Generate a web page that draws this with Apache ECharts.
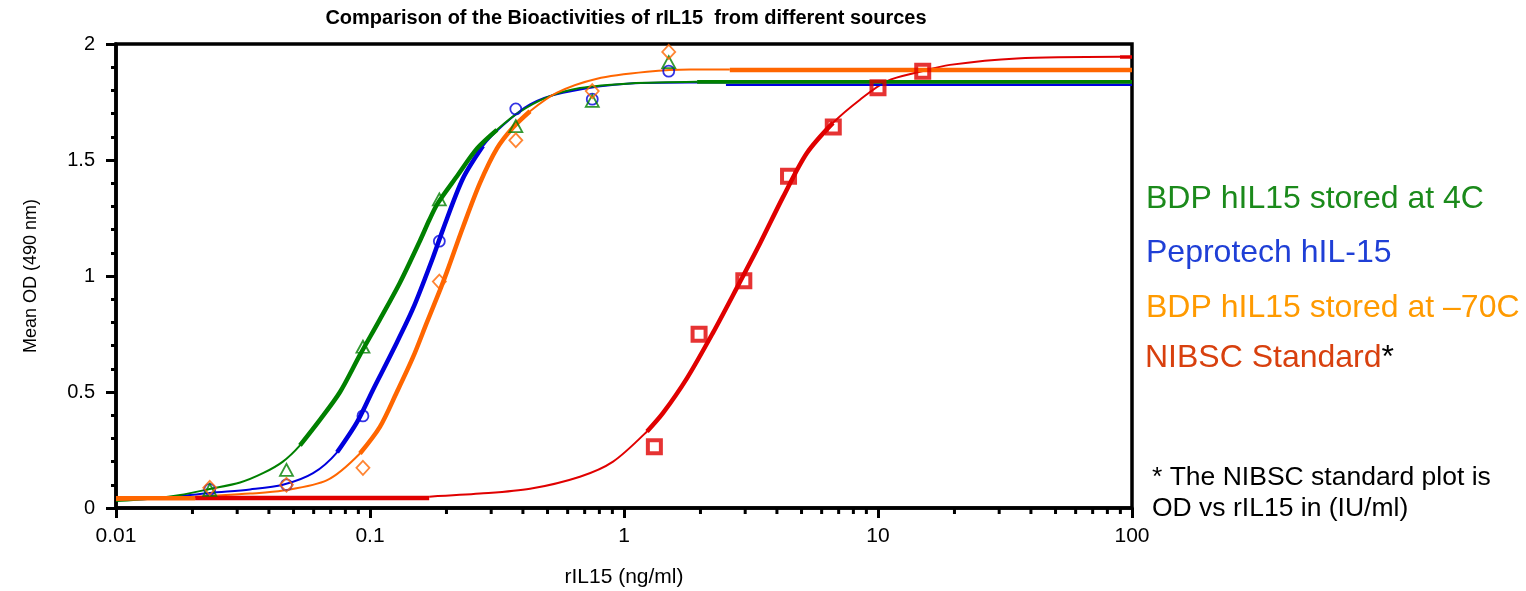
<!DOCTYPE html>
<html>
<head>
<meta charset="utf-8">
<script src="https://cdn.jsdelivr.net/npm/echarts@6/dist/echarts.min.js"></script>
<style>
html,body{margin:0;padding:0;background:#fff;}
#chart{width:1526px;height:591px;}
</style>
</head>
<body>
<div id="chart"></div>
<script>
// ---------- data ----------
const doses = [0.0234, 0.0469, 0.0938, 0.1875, 0.375, 0.75, 1.5];
const bdp4C = [0.078, 0.164, 0.695, 1.33, 1.646, 1.755, 1.922];
const peprotech = [0.08, 0.10, 0.397, 1.15, 1.72, 1.762, 1.883];
const bdp70C = [0.087, 0.10, 0.173, 0.976, 1.585, 1.797, 1.966];
const nibscDoses = [1.317, 1.975, 2.963, 4.444, 6.667, 10, 15];
const nibsc = [0.264, 0.749, 0.979, 1.43, 1.642, 1.811, 1.883];

// fitted curves [conc, OD]
const bdp4CCurve = [[0.01,0.03],[0.0136,0.04],[0.0179,0.056],[0.0234,0.082],[0.0308,0.11],[0.0379,0.15],[0.0454,0.20],[0.053,0.27],[0.0635,0.38],[0.0762,0.50],[0.0913,0.66],[0.109,0.81],[0.131,0.97],[0.157,1.15],[0.171,1.24],[0.184,1.31],[0.22,1.43],[0.264,1.55],[0.316,1.63],[0.379,1.70],[0.497,1.77],[0.671,1.81],[1.056,1.83],[1.94,1.837]];
const peprotechCurve = [[0.01,0.035],[0.0149,0.042],[0.0234,0.065],[0.0337,0.08],[0.0454,0.10],[0.0597,0.15],[0.0742,0.24],[0.0889,0.37],[0.1028,0.51],[0.1232,0.68],[0.1477,0.86],[0.177,1.08],[0.1937,1.20],[0.2322,1.42],[0.2784,1.56],[0.3338,1.65],[0.4266,1.74],[0.575,1.79],[1.056,1.83],[1.82,1.834],[2.52,1.834]];
const bdp70CCurve = [[0.01,0.035],[0.0179,0.045],[0.0234,0.052],[0.0337,0.062],[0.0454,0.075],[0.0678,0.12],[0.0913,0.235],[0.1094,0.35],[0.1276,0.50],[0.1477,0.65],[0.1675,0.80],[0.1887,0.94],[0.2011,1.02],[0.2322,1.21],[0.2708,1.40],[0.3162,1.55],[0.3656,1.64],[0.4266,1.71],[0.5447,1.79],[0.783,1.85],[1.232,1.88],[1.82,1.89],[2.61,1.89]];
const nibscCurve = [[0.171,0.049],[0.271,0.062],[0.4266,0.083],[0.6707,0.135],[0.9057,0.20],[1.232,0.33],[1.425,0.41],[1.771,0.56],[2.239,0.755],[2.785,0.95],[3.43,1.14],[4.226,1.34],[5.25,1.53],[6.646,1.66],[8.494,1.76],[10.85,1.84],[14.62,1.88],[19.19,1.91],[35.2,1.938],[89.7,1.945]];

// plateau / baseline bars drawn in the reference
const bdp4CTop = [[1.94,1.837],[100,1.837]];
const peprotechTop = [[2.52,1.824],[100,1.824]];
const bdp70CTop = [[2.61,1.888],[100,1.888]];
const bdp70CBase = [[0.01,0.042],[0.0205,0.042]];
const nibscBase = [[0.0205,0.043],[0.171,0.043]];
const nibscTop = [[89.7,1.944],[100,1.944]];

const xMinorTicks = [0.02,0.03,0.04,0.05,0.06,0.07,0.08,0.09,0.2,0.3,0.4,0.5,0.6,0.7,0.8,0.9,2,3,4,5,6,7,8,9,20,30,40,50,60,70,80,90];

const titleText = 'Comparison of the Bioactivities of rIL15  from different sources';
const xName = 'rIL15 (ng/ml)';
const yName = 'Mean OD (490 nm)';
const legendTexts = ['BDP hIL15 stored at 4C','Peprotech hIL-15','BDP hIL15 stored at \u201370C','NIBSC Standard'];
const footnote = ['* The NIBSC standard plot is','OD vs rIL15 in (IU/ml)'];

// ---------- styles ----------
const C = {green:'#008000', blue:'#0000dd', orange:'#ff6600', red:'#e00000'};
const FONT = "'Liberation Sans', Arial, sans-serif";
const pair = (xs, ys) => xs.map((x,i)=>[x, ys[i]]);
const within = (arr, a, b) => arr.filter(p => p[0] >= a && p[0] <= b);

function curve(data, color, w, z){
  return {type:'line', data, smooth:0.3, showSymbol:false, silent:true, z,
    lineStyle:{color, width:w}, itemStyle:{color}};
}
function bar(data, color, w, z){
  return {type:'line', data, showSymbol:false, silent:true, z, lineStyle:{color, width:w, cap:'butt'}};
}
function pts(data, symbol, size, color, bw, z){
  return {type:'scatter', data, symbol, symbolSize:size, silent:true, z,
    itemStyle:{color:'rgba(255,255,255,0)', borderColor:color, borderWidth:bw}};
}

const chart = echarts.init(document.getElementById('chart'), null, {renderer:'canvas'});
chart.setOption({
  animation:false,
  backgroundColor:'#fff',
  grid:{left:116, top:44, width:1016, height:464, show:true, borderColor:'#000', borderWidth:3.5, backgroundColor:'transparent', containLabel:false},
  xAxis:{type:'log', logBase:10, min:0.01, max:100,
    axisLine:{show:true, lineStyle:{color:'#000', width:3.5}},
    axisTick:{show:true, length:10, lineStyle:{color:'#000', width:3}},
    minorTick:{show:false}, splitLine:{show:false},
    axisLabel:{color:'#000', fontSize:21, fontFamily:FONT, margin:18}},
  yAxis:{type:'value', min:0, max:2, interval:0.5,
    axisLine:{show:true, lineStyle:{color:'#000', width:3.5}},
    axisTick:{show:true, length:10, lineStyle:{color:'#000', width:3}},
    minorTick:{show:true, splitNumber:5, length:5, lineStyle:{color:'#000', width:3}},
    splitLine:{show:false},
    axisLabel:{color:'#000', fontSize:20, fontFamily:FONT, margin:21}},
  series:[
    curve(peprotechCurve, C.blue, 2, 2),
    curve(within(peprotechCurve, 0.074, 0.32), C.blue, 4.5, 2),
    curve(bdp4CCurve, C.green, 2, 3),
    curve(within(bdp4CCurve, 0.053, 0.32), C.green, 4.5, 3),
    curve(bdp70CCurve, C.orange, 2, 4),
    curve(within(bdp70CCurve, 0.09, 0.43), C.orange, 4.5, 4),
    curve(nibscCurve, C.red, 2, 5),
    curve(within(nibscCurve, 1.2, 6.7), C.red, 4.5, 5),
    bar(peprotechTop, C.blue, 2.5, 6),
    bar(bdp4CTop, C.green, 3.8, 6),
    bar(bdp70CTop, C.orange, 4.7, 6),
    bar(bdp70CBase, C.orange, 4.7, 6),
    bar(nibscBase, C.red, 4.7, 6),
    bar(nibscTop, C.red, 3.5, 6),
    pts(pair(doses, peprotech), 'circle', 11, C.blue, 1.8, 7),
    pts(pair(doses, bdp4C), 'triangle', [13,12], C.green, 1.8, 8),
    pts(pair(doses, bdp70C), 'diamond', [13,14], C.orange, 1.8, 9),
    pts(pair(nibscDoses, nibsc), 'rect', 13, C.red, 4, 10),
    {type:'custom', data:xMinorTicks.map(v=>[v,0]), silent:true, z:11, clip:false,
      renderItem:function(params, api){
        const p = api.coord([api.value(0), 0]);
        return {type:'line', shape:{x1:p[0], y1:p[1], x2:p[0], y2:p[1]+6}, style:{stroke:'#000', lineWidth:3}};
      }}
  ],
  graphic:[
    {type:'text', x:626, y:18, style:{text:titleText, font:'bold 20px '+FONT, fill:'#000', align:'center', verticalAlign:'middle'}},
    {type:'text', x:624, y:577, style:{text:xName, font:'21px '+FONT, fill:'#000', align:'center', verticalAlign:'middle'}},
    {type:'text', x:31, y:276, rotation:Math.PI/2, style:{text:yName, font:'18px '+FONT, fill:'#000', align:'center', verticalAlign:'middle'}},
    {type:'text', x:1146, y:199, style:{text:legendTexts[0], font:'32px '+FONT, fill:'#1b8a1b', align:'left', verticalAlign:'middle'}},
    {type:'text', x:1146, y:253, style:{text:legendTexts[1], font:'32px '+FONT, fill:'#1f3fd6', align:'left', verticalAlign:'middle'}},
    {type:'text', x:1146, y:308, style:{text:legendTexts[2], font:'32px '+FONT, fill:'#ff9a00', align:'left', verticalAlign:'middle'}},
    {type:'text', x:1145, y:358, style:{text:'{a|'+legendTexts[3]+'}{b|*}', font:'32px '+FONT, align:'left', verticalAlign:'middle',
      rich:{a:{fill:'#d8400e', font:'32px '+FONT}, b:{fill:'#000', font:'32px '+FONT}}}},
    {type:'text', x:1152, y:478, style:{text:footnote[0], font:'26.5px '+FONT, fill:'#000', align:'left', verticalAlign:'middle'}},
    {type:'text', x:1152, y:509, style:{text:footnote[1], font:'26.5px '+FONT, fill:'#000', align:'left', verticalAlign:'middle'}}
  ]
});
</script>
</body>
</html>
